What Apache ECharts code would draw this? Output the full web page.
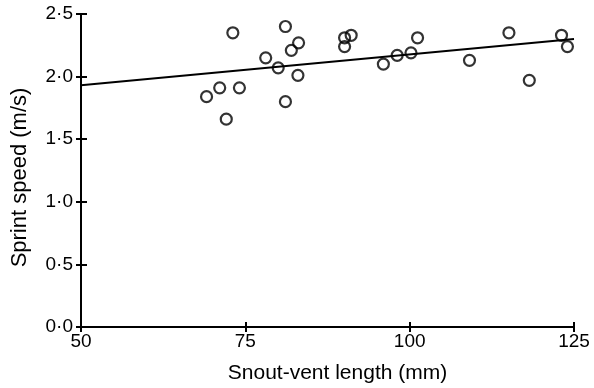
<!DOCTYPE html>
<html>
<head>
<meta charset="utf-8">
<script src="https://cdn.jsdelivr.net/npm/echarts@6/dist/echarts.min.js"></script>
<style>html,body{margin:0;padding:0;background:#fff;}#c{width:594px;height:388px;}</style>
</head>
<body>
<div id="c"></div>
<script>
const svl = [73.1, 81.1, 78.1, 80.0, 83.1, 82.0, 83.0, 71.1, 74.1, 69.1, 72.1, 81.1, 90.1, 91.1, 90.1, 96.0, 98.1, 100.2, 101.2, 109.1, 115.1, 118.2, 123.1, 124.0];
const speed = [2.35, 2.40, 2.15, 2.07, 2.27, 2.21, 2.01, 1.91, 1.91, 1.84, 1.66, 1.80, 2.31, 2.33, 2.24, 2.10, 2.17, 2.19, 2.31, 2.13, 2.35, 1.97, 2.33, 2.24];
const fitX = [50, 125];
const fitY = [1.93, 2.30];
const xTicks = [50, 75, 100, 125];
const yTicks = [0, 0.5, 1.0, 1.5, 2.0, 2.5];

const font = 'Liberation Sans, Arial, Helvetica, sans-serif';
const chart = echarts.init(document.getElementById('c'), null, {renderer: 'canvas'});
const fmtY = v => v.toFixed(1).replace('.', '\u00b7');
const axisLine = {show: true, lineStyle: {color: '#000', width: 2}};
chart.setOption({
  animation: false,
  backgroundColor: '#fff',
  grid: {left: 81, right: 20, top: 14, bottom: 61, containLabel: false, outerBoundsMode: 'none'},
  xAxis: [{
    type: 'value', min: xTicks[0], max: xTicks[xTicks.length - 1], interval: 25,
    axisLine: axisLine,
    axisTick: {show: true, length: 5, lineStyle: {color: '#000', width: 2}},
    axisLabel: {color: '#000', fontFamily: font, fontSize: 19, margin: 5},
    splitLine: {show: false},
    name: 'Snout-vent length (mm)', nameLocation: 'middle', nameGap: 36,
    nameTextStyle: {color: '#000', fontFamily: font, fontSize: 21, padding: [0, 0, 0, 20]}
  }, {
    type: 'value', min: xTicks[0], max: xTicks[xTicks.length - 1], interval: 25,
    position: 'bottom', offset: 0,
    axisLine: {show: false},
    axisTick: {show: true, inside: true, length: 5, lineStyle: {color: '#000', width: 2}},
    axisLabel: {show: false}, splitLine: {show: false}
  }],
  yAxis: [{
    type: 'value', min: yTicks[0], max: yTicks[yTicks.length - 1], interval: 0.5,
    axisLine: axisLine,
    axisTick: {show: true, length: 5, lineStyle: {color: '#000', width: 2}},
    axisLabel: {color: '#000', fontFamily: font, fontSize: 19, margin: 8, formatter: fmtY},
    splitLine: {show: false},
    name: 'Sprint speed (m/s)', nameLocation: 'middle', nameGap: 50, nameRotate: 90,
    nameTextStyle: {color: '#000', fontFamily: font, fontSize: 22, padding: [0, 14, 0, 0]}
  }, {
    type: 'value', min: yTicks[0], max: yTicks[yTicks.length - 1], interval: 0.5,
    position: 'left', offset: 0,
    axisLine: {show: false},
    axisTick: {show: true, inside: true, length: 6, lineStyle: {color: '#000', width: 2}},
    axisLabel: {show: false}, splitLine: {show: false}
  }],
  series: [{
    type: 'line',
    data: fitX.map((x, i) => [x, fitY[i]]),
    symbol: 'none',
    lineStyle: {color: '#000', width: 2},
    z: 2
  }, {
    type: 'scatter',
    data: svl.map((x, i) => [x, speed[i]]),
    symbol: 'circle', symbolSize: 11,
    itemStyle: {color: 'rgba(255,255,255,0)', borderColor: '#000', borderWidth: 2.2},
    z: 3
  }]
});
</script>
</body>
</html>
